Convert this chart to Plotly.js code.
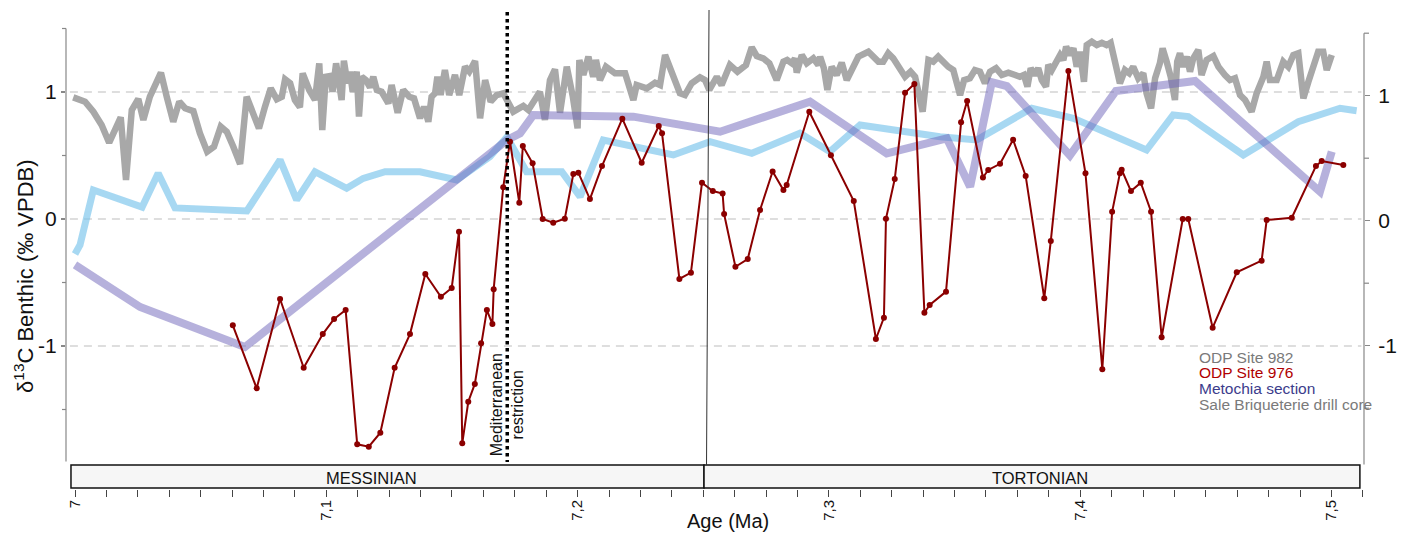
<!DOCTYPE html>
<html>
<head>
<meta charset="utf-8">
<script src="https://cdn.plot.ly/plotly-3.0.1.min.js"></script>
<style>html,body{margin:0;padding:0;background:#fff;}#chart{width:1402px;height:534px;}</style>
</head>
<body>
<div id="chart"></div>
<script>
// ---------- DATA (Age in Ma, d13C in permil VPDB) ----------
const ageSite982 = [
6.9993,7.0040,7.0073,7.0106,7.0136,7.0159,7.0182,7.0203,7.0226,7.0252,
7.0272,7.0298,7.0342,7.0365,7.0391,7.0415,7.0438,7.0471,7.0497,7.0526,
7.0553,7.0580,7.0604,7.0630,7.0657,7.0683,7.0707,7.0732,7.0756,7.0779,
7.0803,7.0823,7.0836,7.0856,7.0875,7.0895,7.0906,7.0932,7.0955,7.0972,
7.0984,7.0998,7.1015,7.1025,7.1039,7.1052,7.1061,7.1070,7.1084,7.1094,
7.1105,7.1121,7.1130,7.1141,7.1158,7.1174,7.1187,7.1201,7.1220,7.1247,
7.1260,7.1284,7.1306,7.1330,7.1349,7.1373,7.1389,7.1406,7.1419,7.1433,
7.1442,7.1455,7.1472,7.1489,7.1512,7.1529,7.1552,7.1569,7.1592,7.1612,
7.1632,7.1654,7.1678,7.1704,7.1744,7.1784,7.1804,7.1850,7.1870,7.1890,
7.1910,7.1930,7.1957,7.1981,7.2000,7.2007,7.2023,7.2043,7.2062,7.2073,
7.2089,7.2113,7.2149,7.2189,7.2209,7.2222,7.2235,7.2275,7.2308,7.2328,
7.2348,7.2374,7.2407,7.2427,7.2454,7.2487,7.2507,7.2524,7.2554,7.2573,
7.2606,7.2636,7.2670,7.2693,7.2713,7.2739,7.2763,7.2792,7.2819,7.2834,
7.2853,7.2865,7.2872,7.2892,7.2912,7.2938,7.2958,7.2965,7.2980,7.2994,
7.3011,7.3031,7.3051,7.3071,7.3095,7.3117,7.3157,7.3197,7.3216,7.3236,
7.3256,7.3283,7.3303,7.3325,7.3343,7.3373,7.3396,7.3415,7.3435,7.3475,
7.3495,7.3522,7.3538,7.3561,7.3581,7.3601,7.3621,7.3641,7.3665,7.3688,
7.3714,7.3741,7.3760,7.3776,7.3790,7.3803,7.3820,7.3833,7.3847,7.3864,
7.3873,7.3887,7.3904,7.3920,7.3933,7.3944,7.3959,7.3973,7.3986,7.3999,
7.4015,7.4026,7.4046,7.4066,7.4086,7.4105,7.4121,7.4138,7.4158,7.4178,
7.4195,7.4211,7.4231,7.4251,7.4264,7.4282,7.4298,7.4317,7.4328,7.4344,
7.4360,7.4377,7.4386,7.4397,7.4410,7.4424,7.4437,7.4450,7.4470,7.4483,
7.4503,7.4530,7.4550,7.4576,7.4596,7.4616,7.4636,7.4656,7.4682,7.4702,
7.4729,7.4742,7.4755,7.4782,7.4808,7.4828,7.4848,7.4868,7.4888,7.4908,
7.4928,7.4947,7.4967,7.4981,7.5001];
const d13cSite982 = [
0.958,0.924,0.845,0.740,0.601,0.701,0.801,0.307,0.858,0.945,
0.780,0.963,1.152,0.963,0.766,0.924,0.872,0.850,0.675,0.530,
0.569,0.727,0.687,0.569,0.433,0.963,0.845,0.714,0.884,1.029,
0.943,0.963,1.100,1.069,0.937,0.880,1.147,1.016,0.937,1.226,
0.701,1.120,1.126,1.002,1.226,1.069,0.937,1.246,1.069,1.160,
1.002,1.160,0.806,1.120,1.094,1.037,1.120,1.016,1.002,0.911,
1.055,0.837,1.016,0.963,0.950,0.793,0.884,0.766,0.963,0.990,
1.120,0.976,1.173,0.976,1.134,0.976,1.199,1.160,1.244,0.793,
1.094,0.924,0.976,0.990,0.845,0.890,0.858,1.002,0.780,1.094,
1.179,0.837,1.199,0.963,0.714,1.252,1.134,1.278,1.120,1.252,
1.094,1.199,1.147,1.147,1.016,0.937,1.055,1.029,1.073,1.055,
1.291,1.160,0.990,0.976,1.069,1.116,1.094,1.016,1.120,1.055,
1.213,1.160,1.213,1.352,1.283,1.265,1.226,1.094,1.239,1.252,
1.226,1.265,1.152,1.291,1.226,1.265,1.213,1.278,1.187,1.016,
1.199,1.134,1.231,1.094,1.199,1.278,1.317,1.239,1.239,1.305,
1.265,1.187,1.120,1.160,1.120,0.845,1.252,1.239,1.278,1.199,
1.173,0.976,1.094,1.108,1.173,1.160,1.069,1.160,1.187,1.134,
1.152,1.134,1.120,1.134,1.042,1.187,1.134,1.187,1.094,1.042,
1.213,1.173,1.239,1.291,1.252,1.357,1.291,1.344,1.199,1.317,
1.081,1.370,1.396,1.370,1.388,1.370,1.388,1.226,1.069,1.173,
1.147,1.199,1.108,1.147,0.990,0.872,1.108,1.226,1.344,1.239,
1.120,0.937,1.239,1.305,1.199,1.278,1.160,1.265,1.331,1.134,
1.252,1.283,1.199,1.134,1.094,1.108,0.976,0.937,0.845,0.990,
1.120,1.239,1.094,1.094,1.239,1.199,1.291,1.305,0.950,1.081,
1.199,1.317,1.317,1.173,1.291];

const ageSite976 = [
7.0628,7.0723,7.0816,7.0910,7.0986,7.1031,7.1077,7.1123,7.1169,7.1215,
7.1272,7.1333,7.1394,7.1456,7.1499,7.1528,7.1541,7.1565,7.1591,7.1616,
7.1639,7.1661,7.1666,7.1704,7.1731,7.1768,7.1782,7.1821,7.1861,7.1903,
7.1949,7.1983,7.2003,7.2049,7.2097,7.2178,7.2255,7.2323,7.2336,7.2405,
7.2451,7.2495,7.2538,7.2577,7.2583,7.2628,7.2677,7.2726,7.2776,7.2819,
7.2832,7.2922,7.3008,7.3099,7.3187,7.3219,7.3227,7.3262,7.3303,7.3340,
7.3380,7.3401,7.3466,7.3526,7.3550,7.3613,7.3634,7.3681,7.3733,7.3783,
7.3857,7.3883,7.3953,7.4021,7.4088,7.4127,7.4158,7.4165,7.4202,7.4241,
7.4282,7.4324,7.4408,7.4430,7.4527,7.4623,7.4722,7.4742,7.4842,7.4938,
7.4961,7.5047];
const d13cSite976 = [
-0.837,-1.333,-0.630,-1.171,-0.906,-0.787,-0.717,-1.774,-1.793,-1.683,
-1.171,-0.906,-0.433,-0.612,-0.543,-0.100,-1.766,-1.439,-1.299,-0.979,
-0.717,-0.827,-0.554,0.250,0.609,0.128,0.575,0.439,0.000,-0.029,
0.002,0.354,0.365,0.157,0.417,0.790,0.443,0.732,0.675,-0.472,
-0.423,0.286,0.220,0.201,0.039,-0.376,-0.315,0.071,0.374,0.228,
0.268,0.845,0.502,0.142,-0.945,-0.777,0.002,0.315,0.994,1.063,
-0.738,-0.677,-0.572,0.762,0.929,0.327,0.386,0.435,0.624,0.339,
-0.624,-0.173,1.165,0.360,-1.183,0.057,0.360,0.388,0.220,0.286,
0.057,-0.931,0.000,0.000,-0.856,-0.420,-0.328,-0.008,0.010,0.417,
0.457,0.425];

const ageSale = [7.0000,7.0020,7.0073,7.0267,7.0331,7.0398,7.0684,7.0816,7.0882,7.0955,
7.1081,7.1147,7.1234,7.1373,7.1519,7.1651,7.1719,7.1797,7.1937,7.2010,
7.2102,7.2248,7.2381,7.2527,7.2693,7.2885,7.3004,7.3124,7.3442,7.3588,
7.3807,7.3973,7.4264,7.4370,7.4430,7.4649,7.4868,7.5034,7.5100];
const d13cSale = [-0.276,-0.205,0.228,0.094,0.360,0.087,0.063,0.465,0.150,0.372,
0.242,0.320,0.372,0.372,0.307,0.491,0.646,0.372,0.372,0.176,
0.622,0.557,0.504,0.609,0.517,0.675,0.530,0.740,0.648,0.622,
0.872,0.793,0.543,0.819,0.806,0.504,0.766,0.872,0.853];

const ageMetochia = [7.0000,7.0259,7.0676,7.1719,7.1771,7.1824,7.2222,7.2567,7.2925,7.3230,
7.3469,7.3562,7.3648,7.3708,7.3959,7.4142,7.4457,7.4954,7.5001];
const d13cMetochia = [-0.362,-0.693,-1.008,0.622,0.675,0.819,0.806,0.687,0.924,0.517,
0.635,0.254,1.077,1.047,0.500,1.008,1.087,0.215,0.530];

const xTickVals = [7.0, 7.1, 7.2, 7.3, 7.4, 7.5];
const xTickText = ['7', '7,1', '7,2', '7,3', '7,4', '7,5'];
const yTickVals = [-1, 0, 1];
const yTickText = ['-1', '0', '1'];
const yMinorTicks = [-1.5, -0.5, 0.5, 1.5];
const gridVals = [-1, 0, 1];
const stages = ['MESSINIAN', 'TORTONIAN'];
const stageBounds = [[6.9984, 7.2503], [7.2503, 7.5113]];
const stageLabelX = [7.118, 7.384];
const restrictionAge = 7.172;
const boundaryAge = 7.2518;
const legendNames = ['ODP Site 982', 'ODP Site 976', 'Metochia section', 'Sale Briqueterie drill core'];
const legendColors = ['#7a7a7a', '#b00000', '#3c3c8c', '#7a7a7a'];

// ---------- TRACES ----------
const traces = [
  {x: ageSite982, y: d13cSite982, type: 'scatter', mode: 'lines',
   line: {color: '#a8a8a8', width: 6.5, shape: 'linear'}, hoverinfo: 'skip'},
  {x: ageSale, y: d13cSale, type: 'scatter', mode: 'lines',
   line: {color: 'rgba(120,195,235,0.65)', width: 7}, hoverinfo: 'skip'},
  {x: ageMetochia, y: d13cMetochia, type: 'scatter', mode: 'lines',
   line: {color: 'rgba(110,100,185,0.5)', width: 8}, hoverinfo: 'skip'},
  {x: ageSite976, y: d13cSite976, type: 'scatter', mode: 'lines+markers',
   line: {color: '#8b0000', width: 2}, marker: {color: '#8b0000', size: 6}, hoverinfo: 'skip'},
  {x: [7.2], y: [0], yaxis: 'y2', type: 'scatter', mode: 'markers',
   marker: {opacity: 0}, hoverinfo: 'skip'}
];

// ---------- SHAPES ----------
const shapes = [];
gridVals.forEach(v => shapes.push({type: 'line', xref: 'paper', yref: 'y', x0: 0.003, x1: 0.998, y0: v, y1: v,
  line: {color: '#bdbdbd', width: 1.2, dash: '8px,6px'}, layer: 'below'}));
// left axis line + minor ticks
shapes.push({type: 'line', xref: 'paper', yref: 'y', x0: 0, x1: 0, y0: 1.5, y1: -1.91,
  line: {color: '#888', width: 1.2}});
yMinorTicks.forEach(v => shapes.push({type: 'line', xref: 'paper', yref: 'y', x0: -4 / 1298, x1: 0, y0: v, y1: v,
  line: {color: '#888', width: 1.2}}));
// right axis line + minor ticks
shapes.push({type: 'line', xref: 'paper', yref: 'y2', x0: 1, x1: 1, y0: 1.5, y1: -1.95,
  line: {color: '#888', width: 1.2}});
yMinorTicks.forEach(v => shapes.push({type: 'line', xref: 'paper', yref: 'y2', x0: 1, x1: 1 + 5 / 1298, y0: v, y1: v,
  line: {color: '#888', width: 1.2}}));
// stage boxes
stageBounds.forEach(b => shapes.push({type: 'rect', xref: 'x', yref: 'paper', x0: b[0], x1: b[1], y0: 0.002, y1: 0.050,
  fillcolor: '#f6f6f6', line: {color: '#111', width: 1.5}, layer: 'below'}));
// stage boundary line (thin)
shapes.push({type: 'line', xref: 'x', yref: 'paper', x0: boundaryAge + 0.0005, x1: boundaryAge - 0.0005, y0: 1, y1: 0.05,
  line: {color: '#333', width: 1}});
// Mediterranean restriction dotted line
shapes.push({type: 'line', xref: 'x', yref: 'y', x0: restrictionAge, x1: restrictionAge, y0: 1.63, y1: -1.913,
  line: {color: '#000', width: 3.5, dash: 'dot'}, layer: 'above'});

// ---------- ANNOTATIONS ----------
const annotations = [];
stages.forEach((s, i) => annotations.push({x: stageLabelX[i], y: 0.023, xref: 'x', yref: 'paper', text: s, showarrow: false,
  xanchor: 'center', yanchor: 'middle',
  font: {family: 'Liberation Sans, Arial', size: 16.5, color: '#111'}}));
legendNames.forEach((n, i) => annotations.push({x: 0.8713, y: [0.2735, 0.2422, 0.2088, 0.1754][i], xref: 'paper', yref: 'paper',
  xanchor: 'left', yanchor: 'middle', text: n, showarrow: false,
  font: {family: 'Liberation Sans, Arial', size: 15.5, color: legendColors[i]}}));
annotations.push({x: restrictionAge, y: -1.465, xref: 'x', yref: 'y', text: 'Mediterranean<br>restriction', textangle: -90,
  showarrow: false, align: 'center', xanchor: 'center', yanchor: 'middle',
  font: {family: 'Liberation Sans, Arial', size: 16, color: '#111'}});
annotations.push({x: 7.2600, y: -0.0668, xref: 'x', yref: 'paper', text: 'Age (Ma)', showarrow: false,
  xanchor: 'center', yanchor: 'middle',
  font: {family: 'Liberation Sans, Arial', size: 20, color: '#111'}});
annotations.push({x: -0.0324, y: 0.4447, xref: 'paper', yref: 'paper', text: 'δ<sup>13</sup>C Benthic (‰ VPDB)', textangle: -90,
  showarrow: false, xanchor: 'center', yanchor: 'middle',
  font: {family: 'Liberation Sans, Arial', size: 22, color: '#111'}});

const layout = {
  width: 1402, height: 534,
  margin: {l: 66, r: 38, t: 10, b: 45, pad: 0},
  paper_bgcolor: '#fff', plot_bgcolor: 'rgba(0,0,0,0)',
  showlegend: false,
  xaxis: {range: [6.99642, 7.51293], showgrid: false, zeroline: false, showline: false,
    tickvals: xTickVals, ticktext: xTickText, ticks: 'outside', ticklen: 7, tickwidth: 1, tickcolor: '#444',
    tickangle: -90, ticklabelstandoff: -3,
    tickfont: {family: 'Liberation Sans, Arial', size: 15, color: '#111'},
    minor: {tick0: 7, dtick: 0.0125, ticks: 'outside', ticklen: 7, tickwidth: 1, tickcolor: '#444', showgrid: false}},
  yaxis: {range: [-2.126, 1.6457], showgrid: false, zeroline: false, showline: false,
    tickvals: yTickVals, ticktext: yTickText, ticks: 'outside', ticklen: 4, tickcolor: '#888', tickwidth: 1.2,
    ticklabelstandoff: 0,
    tickfont: {family: 'Liberation Sans, Arial', size: 21, color: '#111'}},
  yaxis2: {range: [-2.1464, 1.6856], overlaying: 'y', side: 'right', showgrid: false, zeroline: false, showline: false,
    tickvals: yTickVals, ticktext: yTickText, ticks: 'outside', ticklen: 5, tickcolor: '#888', tickwidth: 1.2,
    ticklabelstandoff: 4,
    tickfont: {family: 'Liberation Sans, Arial', size: 21, color: '#111'}},
  shapes: shapes,
  annotations: annotations
};

Plotly.newPlot('chart', traces, layout, {staticPlot: true, displayModeBar: false});
</script>
</body>
</html>
